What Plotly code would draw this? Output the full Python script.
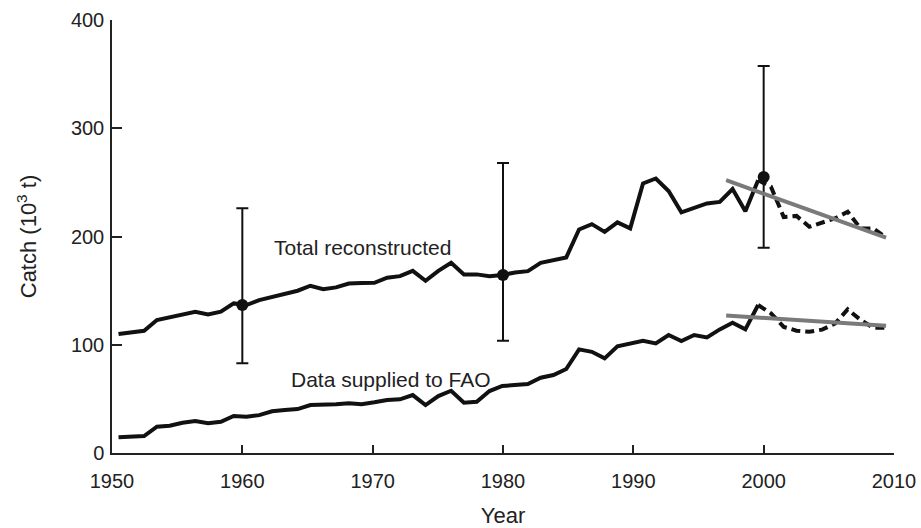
import plotly.graph_objects as go

years = list(range(1950, 2011))
total_catch = [109.9, 111.4, 112.9, 122.8, 125.1, 127.7, 130.5, 128.0, 130.5, 138.2,
               136.7, 141.3, 144.1, 146.8, 149.9, 154.5, 151.4, 153.0, 156.6, 157.0,
               157.2, 161.9, 163.4, 168.3, 159.1, 168.3, 175.7, 165.0, 165.0, 163.4,
               164.4, 166.8, 168.0, 175.7, 178.1, 180.7, 206.5, 211.4, 204.3, 213.0,
               207.5, 249.0, 253.6, 242.0, 222.3, 226.5, 230.5, 232.0, 243.8, 223.4,
               252.0, 246.0, 218.0, 219.0, 209.0, 212.5, 216.7, 222.8, 207.5, 207.5,
               199.0]
fao_catch = [14.5, 15.1, 15.7, 24.3, 25.2, 28.0, 29.5, 27.4, 28.9, 34.2,
             33.5, 35.0, 38.5, 39.7, 40.6, 44.3, 44.3, 45.0, 45.9, 45.0,
             46.8, 48.9, 49.6, 53.5, 44.3, 52.6, 57.5, 46.4, 47.4, 57.2,
             61.9, 62.8, 63.7, 69.5, 72.0, 77.6, 95.7, 93.5, 87.4, 98.5,
             101.0, 103.7, 101.3, 109.0, 103.4, 109.0, 106.8, 114.2, 120.3, 114.2,
             136.7, 129.0, 116.5, 113.0, 112.0, 114.0, 119.5, 132.7, 123.0, 115.7,
             115.7]
split_year = 2000

trend_years = [1997.5, 2010]
trend_total = [252.0, 199.0]
trend_fao = [127.0, 117.5]

err_years = [1960, 1980, 2000]
err_mid = [136.7, 164.4, 255.0]
err_hi = [226.0, 268.0, 357.6]
err_lo = [83.0, 103.7, 189.6]

x_ticks = [1950, 1960, 1970, 1980, 1990, 2000, 2010]
y_ticks = [0, 100, 200, 300, 400]

k = years.index(split_year)
black = "#111111"
grey = "#7a7a7a"
font = "Liberation Sans, Arial, sans-serif"

fig = go.Figure()
for series in (total_catch, fao_catch):
    fig.add_trace(go.Scatter(x=years[:k + 1], y=series[:k + 1], mode="lines",
                             line=dict(color=black, width=4), xaxis="x2",
                             showlegend=False, hoverinfo="skip"))
    fig.add_trace(go.Scatter(x=years[k:], y=series[k:], mode="lines",
                             line=dict(color=black, width=4, dash="9px,5px"), xaxis="x2",
                             showlegend=False, hoverinfo="skip"))
for tr in (trend_total, trend_fao):
    fig.add_trace(go.Scatter(x=trend_years, y=tr, mode="lines",
                             line=dict(color=grey, width=4), xaxis="x2",
                             showlegend=False, hoverinfo="skip"))

fig.add_trace(go.Scatter(
    x=err_years, y=err_mid, mode="markers",
    marker=dict(color=black, size=12),
    error_y=dict(type="data", symmetric=False,
                 array=[h - m for h, m in zip(err_hi, err_mid)],
                 arrayminus=[m - l for m, l in zip(err_mid, err_lo)],
                 color=black, thickness=2, width=6),
    showlegend=False, hoverinfo="skip"))

fig.add_annotation(x=1962.3, y=190, text="Total reconstructed", showarrow=False,
                   xanchor="left", yanchor="middle", font=dict(size=21, color="#222"))
fig.add_annotation(x=1963.6, y=68, text="Data supplied to FAO", showarrow=False,
                   xanchor="left", yanchor="middle", font=dict(size=21, color="#222"))

fig.update_layout(
    width=921, height=528, autosize=False,
    margin=dict(l=112, r=27, t=20, b=75),
    paper_bgcolor="white", plot_bgcolor="white",
    font=dict(family=font, size=20, color="#222"),
    xaxis=dict(range=[1950, 2010], tickvals=x_ticks, ticks="inside", ticklen=8,
               tickwidth=1.5, tickcolor="#222", showline=True, linecolor="#222",
               linewidth=1.5, showgrid=False, zeroline=False, automargin=False,
               ticklabelstandoff=9,
               title=dict(text="Year", font=dict(size=22), standoff=19)),
    xaxis2=dict(range=[1949.49, 2010.62], overlaying="x", visible=False, automargin=False),
    yaxis=dict(range=[0, 400], tickvals=y_ticks, ticks="inside", ticklen=10,
               tickwidth=1.5, tickcolor="#222", showline=True, linecolor="#222",
               linewidth=1.5, showgrid=False, zeroline=False, automargin=False,
               ticklabelstandoff=2,
               title=dict(text="Catch (10<sup>3</sup> t)", font=dict(size=22), standoff=28)),
)

fig.write_html("out.html", config={"displayModeBar": False},
               post_script="document.body.style.margin='0';document.body.style.overflow='hidden';")
